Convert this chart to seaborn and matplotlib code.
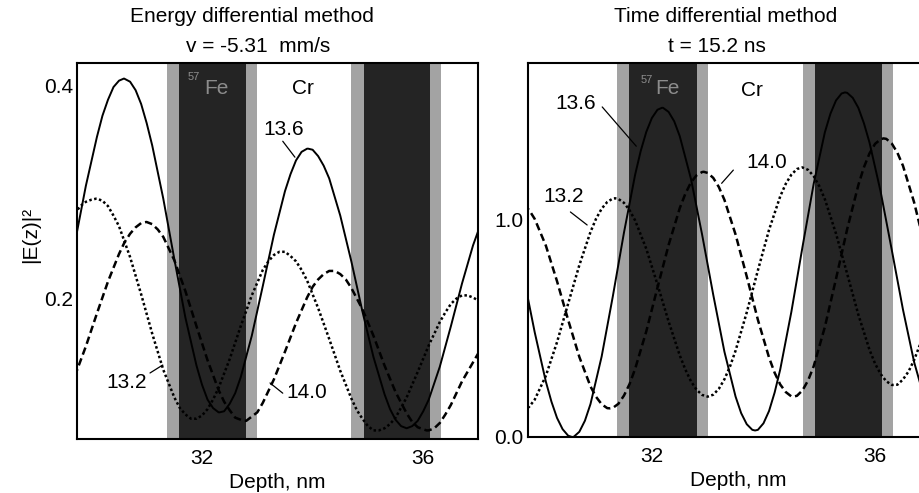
import matplotlib
matplotlib.use("Agg")
import matplotlib.pyplot as plt
import pandas as pd
import seaborn as sns

# ---------------------------------------------------------------- data
# depth grid (nm) on which the field intensities are tabulated
depth = [29.7, 29.9, 30.1, 30.3, 30.5, 30.7, 30.9, 31.1, 31.3, 31.5,
         31.7, 31.9, 32.1, 32.3, 32.5, 32.7, 32.9, 33.1, 33.3, 33.5,
         33.7, 33.9, 34.1, 34.3, 34.5, 34.7, 34.9, 35.1, 35.3, 35.5,
         35.7, 35.9, 36.1, 36.3, 36.5, 36.7, 36.9, 37.1]

# energy differential method, v = -5.31 mm/s
e_136 = [0.252, 0.306, 0.352, 0.387, 0.405, 0.404, 0.383, 0.344, 0.294, 0.237,
         0.182, 0.137, 0.105, 0.093, 0.101, 0.126, 0.165, 0.212, 0.260, 0.301,
         0.330, 0.341, 0.334, 0.313, 0.278, 0.235, 0.188, 0.145, 0.110, 0.086,
         0.078, 0.085, 0.105, 0.136, 0.174, 0.214, 0.250, 0.279]
e_132 = [0.280, 0.291, 0.294, 0.287, 0.268, 0.239, 0.204, 0.167, 0.133, 0.107,
         0.091, 0.087, 0.096, 0.116, 0.143, 0.174, 0.203, 0.227, 0.241, 0.244,
         0.235, 0.217, 0.191, 0.162, 0.132, 0.106, 0.087, 0.076, 0.078, 0.088,
         0.107, 0.131, 0.156, 0.178, 0.195, 0.203, 0.201, 0.195]
e_140 = [0.127, 0.155, 0.186, 0.216, 0.242, 0.261, 0.271, 0.270, 0.258, 0.236,
         0.207, 0.174, 0.142, 0.114, 0.095, 0.086, 0.089, 0.102, 0.124, 0.150,
         0.177, 0.201, 0.218, 0.226, 0.223, 0.210, 0.190, 0.165, 0.137, 0.112,
         0.092, 0.079, 0.076, 0.083, 0.100, 0.122, 0.140, 0.158]

# extra samples (depth, value) around the maxima and minima
e_136_fine = [(30.2, 0.372), (30.4, 0.399), (30.59, 0.407), (30.8, 0.396), (31.0, 0.365),
              (32.0, 0.119), (32.2, 0.097), (32.32, 0.093), (32.4, 0.094), (32.6, 0.111),
              (33.6, 0.317), (33.8, 0.338), (33.92, 0.341), (34.0, 0.340), (34.2, 0.325),
              (35.4, 0.096), (35.6, 0.080), (35.8, 0.080), (36.0, 0.094)]
e_132_fine = [(29.8, 0.287), (30.0, 0.293), (30.09, 0.294), (30.2, 0.292), (30.4, 0.278),
              (31.6, 0.097), (31.8, 0.087), (31.85, 0.087), (32.0, 0.090), (32.2, 0.105),
              (33.2, 0.235), (33.4, 0.244), (33.44, 0.244), (33.6, 0.240), (33.8, 0.227),
              (34.8, 0.095), (35.0, 0.080), (35.18, 0.076), (35.2, 0.076), (35.4, 0.082),
              (36.4, 0.187), (36.6, 0.200), (36.76, 0.203), (36.8, 0.203), (37.0, 0.198)]
e_140_fine = [(30.6, 0.253), (30.8, 0.267), (30.99, 0.272), (31.0, 0.272), (31.2, 0.265),
              (32.4, 0.103), (32.6, 0.088), (32.75, 0.085), (32.8, 0.085), (33.0, 0.093),
              (34.0, 0.211), (34.2, 0.223), (34.34, 0.226), (34.4, 0.226), (34.6, 0.218),
              (35.8, 0.084), (36.0, 0.077), (36.06, 0.076), (36.2, 0.078), (36.4, 0.091)]

# time differential method, t = 15.2 ns
t_136 = [0.740, 0.483, 0.255, 0.088, 0.006, 0.024, 0.152, 0.371, 0.648, 0.942,
         1.209, 1.406, 1.508, 1.498, 1.386, 1.190, 0.933, 0.655, 0.393, 0.186,
         0.059, 0.033, 0.120, 0.311, 0.577, 0.877, 1.167, 1.404, 1.551, 1.586,
         1.517, 1.357, 1.130, 0.861, 0.587, 0.345, 0.163, 0.060]
t_132 = [0.122, 0.172, 0.282, 0.437, 0.615, 0.792, 0.945, 1.052, 1.099, 1.079,
         0.998, 0.867, 0.703, 0.532, 0.376, 0.257, 0.194, 0.195, 0.266, 0.398,
         0.574, 0.768, 0.955, 1.109, 1.209, 1.242, 1.202, 1.096, 0.937, 0.752,
         0.564, 0.402, 0.290, 0.240, 0.265, 0.355, 0.490, 0.670]
t_140 = [1.071, 1.005, 0.882, 0.718, 0.539, 0.369, 0.233, 0.151, 0.134, 0.191,
         0.314, 0.487, 0.688, 0.885, 1.055, 1.173, 1.221, 1.194, 1.093, 0.933,
         0.740, 0.540, 0.366, 0.242, 0.187, 0.215, 0.326, 0.507, 0.729, 0.958,
         1.161, 1.307, 1.372, 1.352, 1.250, 1.081, 0.870, 0.648]

t_136_fine = [(30.2, 0.163), (30.4, 0.036), (30.57, 0.000), (30.6, 0.001), (30.8, 0.075),
              (31.8, 1.318), (32.0, 1.470), (32.18, 1.517), (32.2, 1.517), (32.4, 1.455),
              (33.6, 0.110), (33.8, 0.033), (33.85, 0.030), (34.0, 0.063), (34.2, 0.205),
              (35.2, 1.490), (35.4, 1.583), (35.46, 1.588), (35.6, 1.563), (35.8, 1.446)]
t_132_fine = [(29.8, 0.139),
              (31.0, 1.006), (31.2, 1.083), (31.34, 1.100), (31.4, 1.097), (31.6, 1.045),
              (32.6, 0.311), (32.8, 0.218), (33.0, 0.186), (33.2, 0.222), (33.4, 0.325),
              (34.4, 1.167), (34.6, 1.235), (34.69, 1.242), (34.8, 1.231), (35.0, 1.156),
              (36.0, 0.338), (36.2, 0.257), (36.33, 0.240), (36.4, 0.241), (36.6, 0.302)]
t_140_fine = [(29.8, 1.046),
              (31.0, 0.185), (31.2, 0.133), (31.25, 0.132), (31.4, 0.153), (31.6, 0.244),
              (32.6, 1.121), (32.8, 1.206), (32.93, 1.222), (33.0, 1.217), (33.2, 1.152),
              (34.2, 0.296), (34.4, 0.207), (34.54, 0.186), (34.6, 0.190), (34.8, 0.261),
              (35.8, 1.243), (36.0, 1.351), (36.15, 1.376), (36.2, 1.374), (36.4, 1.310)]

# multilayer: interface (gray) and 57Fe (dark) layer boundaries, nm
interface_layers = [(31.37, 31.59), (32.80, 33.00), (34.70, 34.92), (36.12, 36.32)]
fe_layers = [(31.59, 32.80), (34.92, 36.12)]

# ---------------------------------------------------------------- style
sns.set_theme(style="white")
plt.rcParams["font.family"] = ["Liberation Sans", "DejaVu Sans"]
plt.rcParams["text.color"] = "black"
plt.rcParams["axes.labelcolor"] = "black"
plt.rcParams["xtick.color"] = "black"
plt.rcParams["ytick.color"] = "black"
plt.rcParams["axes.linewidth"] = 1.5

FS = 15
W, H = 920, 493


def frame(values, fine):
    d = list(depth) + [p[0] for p in fine]
    v = list(values) + [p[1] for p in fine]
    return pd.DataFrame({"depth": d, "value": v}).sort_values("depth")


def draw_panel(ax, curves):
    for lo, hi in interface_layers:
        ax.axvspan(lo, hi, color="#a3a3a3", lw=0, zorder=0.5)
    for lo, hi in fe_layers:
        ax.axvspan(lo, hi, color="#242424", lw=0, zorder=0.6)
    for values, fine, ls, lw in curves:
        sns.lineplot(data=frame(values, fine), x="depth", y="value",
                     color="black", linestyle=ls, linewidth=lw,
                     estimator=None, sort=True, ax=ax, zorder=2)
    ax.set_xticks([30, 32, 34, 36])
    ax.set_xticklabels(["", "32", "", "36"])
    ax.tick_params(axis="both", direction="in", length=5, width=1.2,
                   labelsize=FS, colors="black")
    ax.tick_params(axis="x", pad=7)
    ax.tick_params(axis="y", pad=3)
    ax.set_xlabel("Depth, nm", fontsize=FS, labelpad=4, color="black")
    ax.set_ylabel("")
    for s in ax.spines.values():
        s.set_color("black")
        s.set_linewidth(1.5)
        s.set_zorder(5)


def leader(ax, p0, p1):
    ax.plot([p0[0], p1[0]], [p0[1], p1[1]], color="black", lw=0.9, zorder=3)


def label(ax, x, y, s, **kw):
    kw.setdefault("color", "black")
    ax.text(x, y, s, fontsize=kw.pop("fontsize", FS), ha="center", va="center",
            zorder=4, **kw)


fig = plt.figure(figsize=(W / 100, H / 100), dpi=100)

# ---- energy differential method
axL = fig.add_axes([77 / W, (H - 439) / H, 401 / W, 376 / H])
draw_panel(axL, [(e_136, e_136_fine, "-", 1.4),
                 (e_132, e_132_fine, (0, (1, 1)), 1.8),
                 (e_140, e_140_fine, (0, (3, 1.6)), 1.8)])
axL.set_xlim(29.74, 36.99)
axL.set_ylim(0.0679, 0.4216)
axL.set_yticks([0.1, 0.2, 0.3, 0.4])
axL.set_yticklabels(["", "0.2", "", "0.4"])

label(axL, 32.27, 0.398, "Fe", color="#8c8c8c")
label(axL, 31.85, 0.4085, "57", fontsize=8, color="#8c8c8c")
label(axL, 33.83, 0.398, "Cr")
label(axL, 33.48, 0.3595, "13.6")
leader(axL, (33.46, 0.348), (33.68, 0.333))
label(axL, 30.63, 0.1215, "13.2")
leader(axL, (31.06, 0.130), (31.29, 0.1375))
label(axL, 33.90, 0.112, "14.0")
leader(axL, (33.46, 0.111), (33.23, 0.1206))

# ---- time differential method
axR = fig.add_axes([528 / W, (H - 437) / H, (37.3 - 29.78) * 55.8 / W, 374 / H])
draw_panel(axR, [(t_136, t_136_fine, "-", 1.4),
                 (t_132, t_132_fine, (0, (1, 1)), 1.8),
                 (t_140, t_140_fine, (0, (3, 1.6)), 1.8)])
axR.set_xlim(29.78, 37.3)
axR.set_ylim(0.0, 1.7235)
axR.set_yticks([0.0, 0.5, 1.0, 1.5])
axR.set_yticklabels(["0.0", "", "1.0", ""])

label(axR, 32.27, 1.605, "Fe", color="#8c8c8c")
label(axR, 31.90, 1.645, "57", fontsize=8, color="#8c8c8c")
label(axR, 33.80, 1.599, "Cr")
label(axR, 30.63, 1.535, "13.6")
leader(axR, (31.11, 1.521), (31.72, 1.34))
label(axR, 30.41, 1.11, "13.2")
leader(axR, (30.54, 1.037), (30.84, 0.977))
label(axR, 34.05, 1.263, "14.0")
leader(axR, (33.25, 1.169), (33.46, 1.23))

# ---- titles and shared y label
fig.text(252 / W, 1 - 17 / H, "Energy differential method", fontsize=FS, ha="center", va="center", color="black")
fig.text(258 / W, 1 - 47 / H, "v = -5.31  mm/s", fontsize=FS, ha="center", va="center", color="black")
fig.text(726 / W, 1 - 17 / H, "Time differential method", fontsize=FS, ha="center", va="center", color="black")
fig.text(717 / W, 1 - 47 / H, "t = 15.2 ns", fontsize=FS, ha="center", va="center", color="black")
fig.text(31 / W, 1 - 235 / H, "|E(z)|²", fontsize=FS, rotation=90, ha="center", va="center", color="black")

fig.savefig("out.png", dpi=100)
